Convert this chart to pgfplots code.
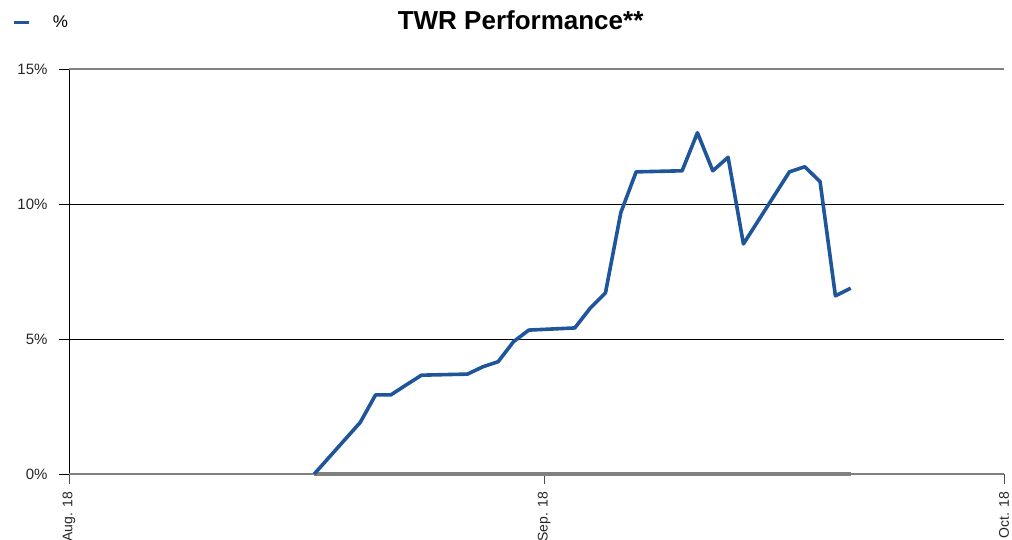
\documentclass[border=0pt]{standalone}
\usepackage{pgfplots}
\pgfplotsset{compat=1.18}
\usepackage{fontspec}
\setmainfont{Liberation Sans}
\definecolor{twrblue}{RGB}{31,85,154}
\definecolor{zgray}{RGB}{128,128,128}
\begin{document}
\begin{tikzpicture}
\useasboundingbox (0,0) rectangle (1012pt,540pt);
\begin{axis}[
  at={(69pt,66pt)}, anchor=south west,
  width=935pt, height=405pt, scale only axis,
  xmin=0, xmax=61, ymin=0, ymax=15,
  clip=false,
  axis x line*=bottom, axis y line*=left,
  x axis line style={draw=zgray, line width=1.4pt, -},
  y axis line style={draw=black, line width=0.6pt, -},
  xtick={0,31,61}, xticklabels={Aug. 18,Sep. 18,Oct. 18},
  xtick style={draw=black!70, line width=0.6pt},
  major tick length=10pt,
  tick align=outside,
  xticklabel style={rotate=90, anchor=east, font=\fontsize{14}{16}\selectfont, text=black!85, inner sep=0pt, xshift=-8pt},
  ytick={5,10},
  ymajorgrids, major grid style={black, line width=0.6pt},
  ytick style={draw=black, line width=0.6pt},
  extra y ticks={0,15},
  extra y tick style={major grid style={zgray, line width=1.4pt}, major tick style={draw=zgray, line width=1.4pt}},
  yticklabel={\pgfmathprintnumber{\tick}\%},
  yticklabel style={font=\fontsize{15}{17}\selectfont, text=black!85, xshift=-8pt},
  /pgf/number format/assume math mode=true,
  title={TWR Performance**},
  title style={at={(0.483,1.105)}, anchor=center, font=\bfseries\fontsize{26}{30}\selectfont},
  legend style={at={(-0.061,1.115)}, anchor=west, draw=none, fill=none, font=\fontsize{17}{19}\selectfont, inner sep=0pt},
  legend cell align=left,
]
\addplot[zgray, line width=4.5pt, forget plot] coordinates {
(16,0) (19,0) (20,0) (21,0) (22,0) (23,0) (26,0) (27,0) (28,0) (29,0) (30,0)
(33,0) (34,0) (35,0) (36,0) (37,0) (40,0) (41,0) (42,0) (43,0) (44,0)
(47,0) (48,0) (49,0) (50,0) (51,0)
};
\addplot[twrblue, line width=3.6pt, line join=round,
  legend image code/.code={\draw[twrblue, line width=3.6pt] (0pt,0pt) -- (15pt,0pt);}]
coordinates {
(16,0) (19,1.91) (20,2.93) (21,2.93) (22,3.30) (23,3.66) (26,3.70) (27,3.97)
(28,4.16) (29,4.90) (30,5.33) (33,5.41) (34,6.14) (35,6.71) (36,9.68)
(37,11.19) (40,11.23) (41,12.64) (42,11.23) (43,11.73) (44,8.52)
(45,9.41) (46,10.30) (47,11.19) (48,11.38) (49,10.83) (50,6.60) (51,6.88)
};
\addlegendentry{\hspace{20pt}\%}
\end{axis}
\end{tikzpicture}
\end{document}
